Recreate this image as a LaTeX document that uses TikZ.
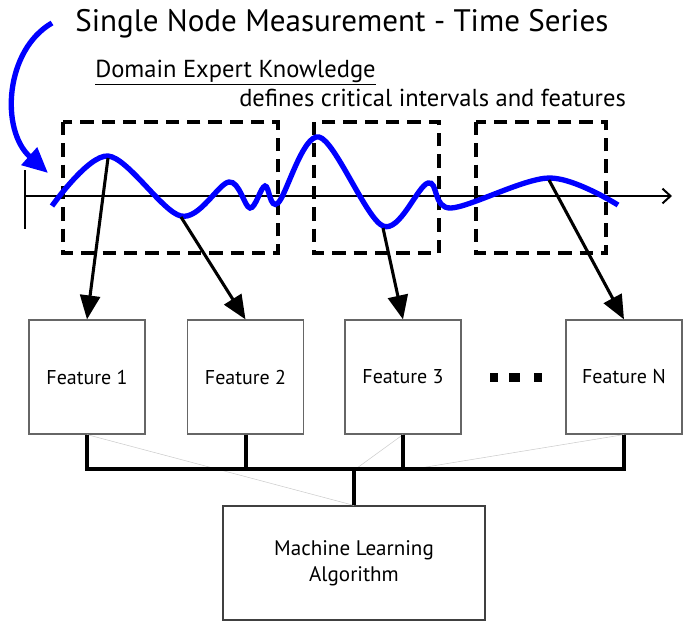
\documentclass[tikz,border=0pt]{standalone}
\usepackage{fontspec}
\setmainfont{PT Sans}
\usetikzlibrary{arrows.meta}
\begin{document}
\begin{tikzpicture}[x=0.75pt,y=-0.75pt,
  fbox/.style={draw=black!60,line width=0.9pt,minimum width=87pt,minimum height=85.5pt,inner sep=0pt,font=\fontsize{15}{17}\selectfont},
  mlbox/.style={draw=black!75,line width=0.9pt,minimum width=196.5pt,minimum height=85.5pt,inner sep=0pt,align=center,font=\fontsize{15.8}{19.5}\selectfont},
  window/.style={line width=3pt,dash pattern=on 10pt off 6pt},
  pick/.style={line width=2.3pt,-{Triangle[length=18pt,width=15pt]}},
  bus/.style={line width=3pt},
  ghost/.style={draw=black!20,line width=0.4pt},
  signal/.style={blue,line width=4pt}]
\useasboundingbox (0,0) rectangle (686,622);

% headings
\node[font=\fontsize{23.3}{27}\selectfont,anchor=base west,inner sep=0pt] (title) at (75,31) {Single Node Measurement - Time Series};
\node[font=\fontsize{18.4}{22}\selectfont,anchor=base west,inner sep=0pt] (domain) at (95,77) {\underline{Domain Expert Knowledge}};
\node[font=\fontsize{18.4}{22}\selectfont,anchor=base west,inner sep=0pt] (defines) at (239,106) {defines critical intervals and features};

% arrow from the title down to the signal
\coordinate (tstart) at (52,23);
\coordinate (tend) at (48,173);
\draw[blue,line width=4pt,-{Triangle[length=19pt,width=17pt]}] (tstart) .. controls (5,50) and (0,130) .. (tend);

% time axis
\coordinate (ax0) at (25,196);
\coordinate (ax1) at (672,196);
\coordinate (tick0) at (25,170);
\coordinate (tick1) at (25,229);
\draw[line width=1.5pt,-{Straight Barb[length=6pt,width=11pt]}] (ax0) -- (ax1);
\draw[line width=1pt] (tick0) -- (tick1);

% critical intervals
\draw[window] (63,122) rectangle (278,253);
\draw[window] (314,122) rectangle (439,253);
\draw[window] (476,122) rectangle (606,253);

% measured signal
\draw[signal] plot[smooth,tension=0.55] coordinates {(52,206) (108,156) (181,216) (229,182) (250,208) (265,186) (278,203) (319,137) (383,226) (428,183) (451,208) (549,178) (618,205)};

% feature boxes
\node[fbox] (f1) at (87,377) {Feature 1};
\node[fbox] (f2) at (245.5,377) {Feature 2};
\node[fbox] (f3) at (403,377) {Feature 3};
\node[fbox] (fn) at (624,377) {Feature N};
\fill (490,373) rectangle (498,382);
\fill (509,373) rectangle (520,382);
\fill (534,373) rectangle (542,382);

% features picked from the signal
\coordinate (p1) at (108,158);
\coordinate (p2) at (181,217);
\coordinate (p3) at (383,228);
\coordinate (p4) at (549,180);
\draw[pick] (p1) -- (f1.north);
\draw[pick] (p2) -- (f2.north);
\draw[pick] (p3) -- (f3.north);
\draw[pick] (p4) -- (fn.north);

% learner
\node[mlbox] (ml) at (354,563) {Machine Learning\\Algorithm};

% faint construction lines
\draw[ghost] (f1.south) -- (ml.north);
\draw[ghost] (f3.south) -- (357,468);
\draw[ghost] (fn.south) -- (420,468);

% bus collecting the features
\coordinate (b1) at (87,469);
\coordinate (b2) at (245.5,469);
\coordinate (b3) at (403,469);
\coordinate (bn) at (624,469);
\coordinate (bm) at (354,469);
\draw[bus] (f1.south) -- (b1);
\draw[bus] (f2.south) -- (b2);
\draw[bus] (f3.south) -- (b3);
\draw[bus] (fn.south) -- (bn);
\draw[bus] ([xshift=-1.5pt]b1) -- ([xshift=1.5pt]bn);
\draw[bus] (bm) -- (ml.north);
\end{tikzpicture}
\end{document}
